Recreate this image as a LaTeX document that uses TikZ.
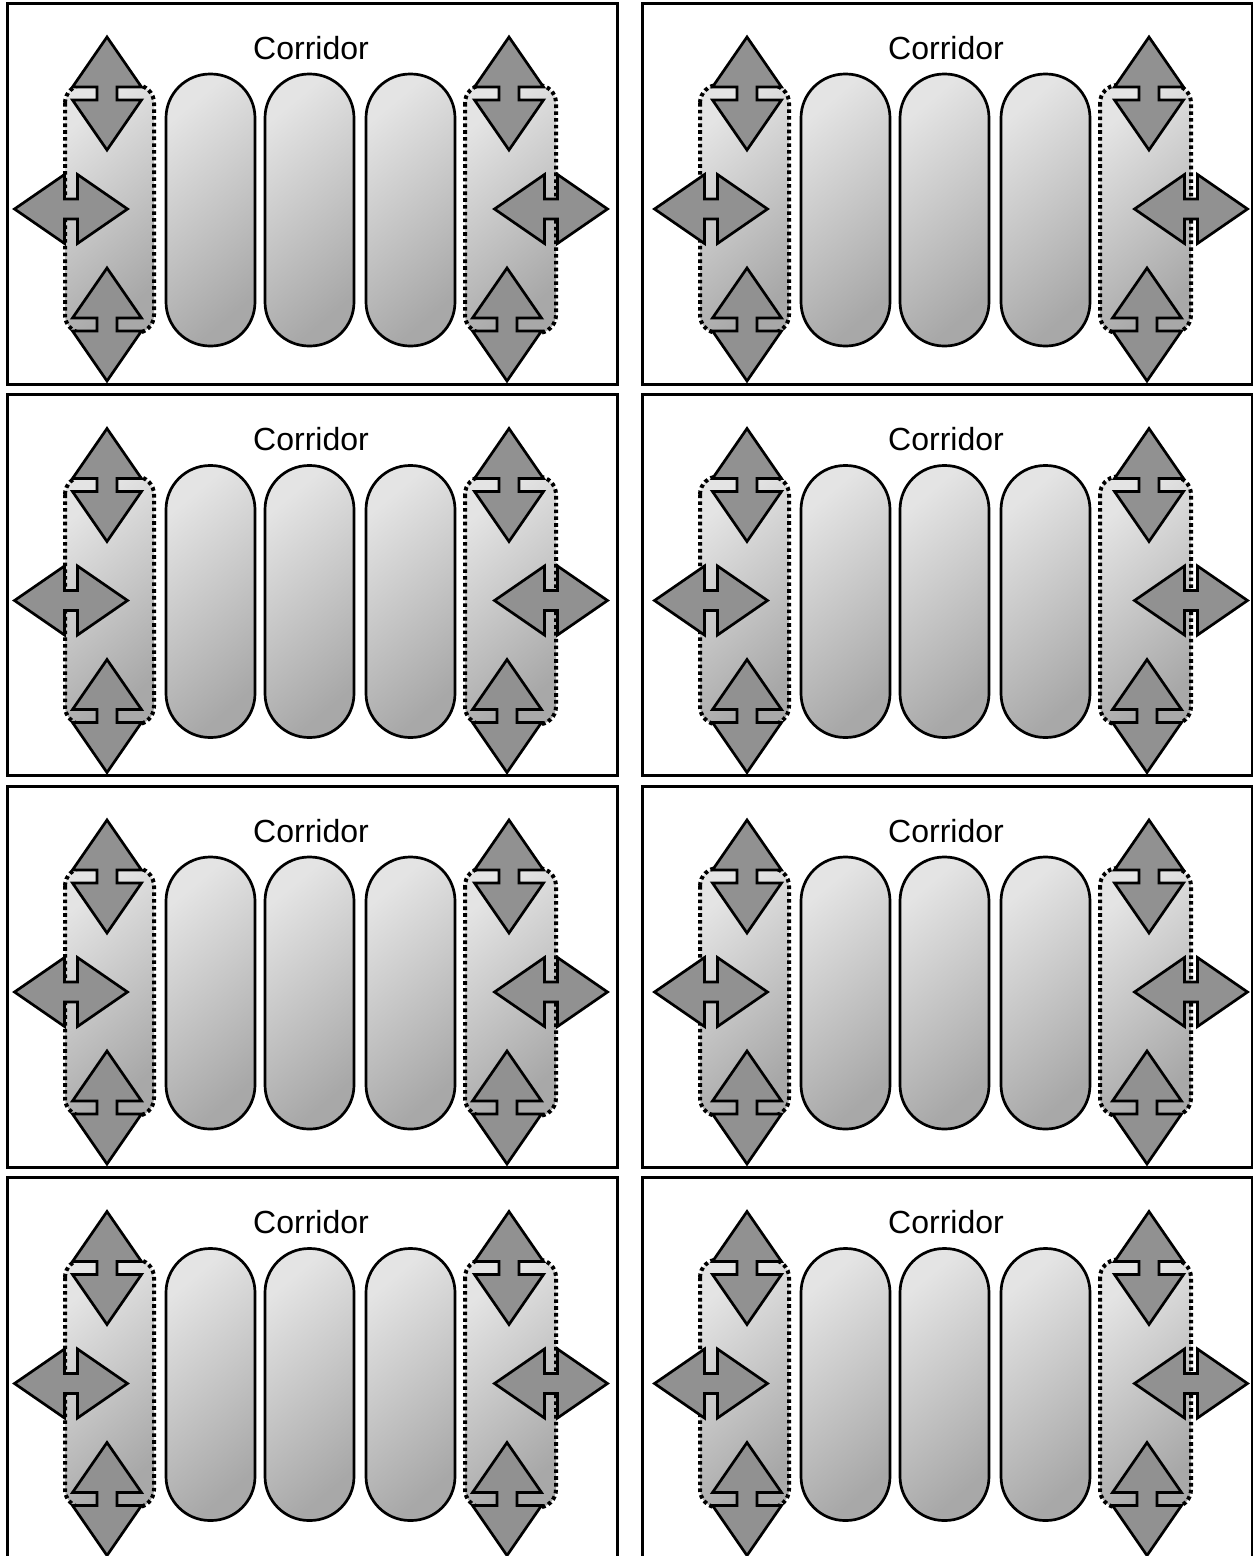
\documentclass[tikz,border=0pt]{standalone}
\usepackage{fontspec}
\setmainfont{Liberation Sans}
\definecolor{arrowgray}{HTML}{919191}
\definecolor{shadelight}{HTML}{E4E4E4}
\definecolor{shadedark}{HTML}{A8A8A8}
\tikzset{
  framebox/.style={draw=black, line width=3pt},
  pillbox/.style={draw=black, line width=2.7pt, rounded corners=44pt,
    top color=shadelight, bottom color=shadedark, shading angle=40},
  zonebox/.style={draw=black, line width=4pt, dash pattern=on 3.6pt off 3.2pt,
    rounded corners=18pt, top color=shadelight, bottom color=shadedark, shading angle=40},
  dblarrow/.style={draw=black, line width=2.7pt, fill=arrowgray, line join=miter},
  corrlabel/.style={font=\fontsize{32}{38}\selectfont, anchor=base, inner sep=0pt}
}
% vertical double arrow centred at (#1,#2)
\newcommand\vdblarrow[2]{%
  \begin{scope}[shift={(#1,#2)}]
    \draw[dblarrow] (0,-56.5) -- (34.5,-6.5) -- (10,-6.5) -- (10,6.5) -- (34.5,6.5)
      -- (0,56.5) -- (-34.5,6.5) -- (-10,6.5) -- (-10,-6.5) -- (-34.5,-6.5) -- cycle;
  \end{scope}}
% horizontal double arrow centred at (#1,#2)
\newcommand\hdblarrow[2]{%
  \begin{scope}[shift={(#1,#2)}]
    \draw[dblarrow] (-56.5,0) -- (-6.5,-34.5) -- (-6.5,-10) -- (6.5,-10) -- (6.5,-34.5)
      -- (56.5,0) -- (6.5,34.5) -- (6.5,10) -- (-6.5,10) -- (-6.5,34.5) -- cycle;
  \end{scope}}
% one panel: #1 x offset, #2 y offset, #3 arrow x offset, #4 name prefix
\newcommand\corrpanel[4]{%
  \begin{scope}[shift={(#1,#2)}]
    \draw[framebox] (7,3) rectangle (617,384);
    \node[corrlabel] (#4label) at (311,59) {Corridor};
    \draw[pillbox] (166,74) rectangle (255,346);
    \draw[pillbox] (265,74) rectangle (354,346);
    \draw[pillbox] (366,74) rectangle (455,346);
    \draw[zonebox] (65,85) rectangle (154,333);
    \draw[zonebox] (465,85) rectangle (556,333);
  \end{scope}
  \begin{scope}[shift={(#3,#2)}]
    \vdblarrow{107}{93.5}
    \vdblarrow{107}{324.5}
    \hdblarrow{71}{209}
    \vdblarrow{509}{93.5}
    \vdblarrow{507}{324.5}
    \hdblarrow{551}{209}
  \end{scope}}
\begin{document}
\begin{tikzpicture}[x=1pt,y=-1pt]
  \useasboundingbox[fill=white] (0,0) rectangle (1253,1556);
  \corrpanel{0}{0}{0}{pa}
  \corrpanel{635}{0}{640}{pb}
  \corrpanel{0}{391.5}{0}{pc}
  \corrpanel{635}{391.5}{640}{pd}
  \corrpanel{0}{783}{0}{pe}
  \corrpanel{635}{783}{640}{pf}
  \corrpanel{0}{1174.5}{0}{pg}
  \corrpanel{635}{1174.5}{640}{ph}
\end{tikzpicture}
\end{document}
